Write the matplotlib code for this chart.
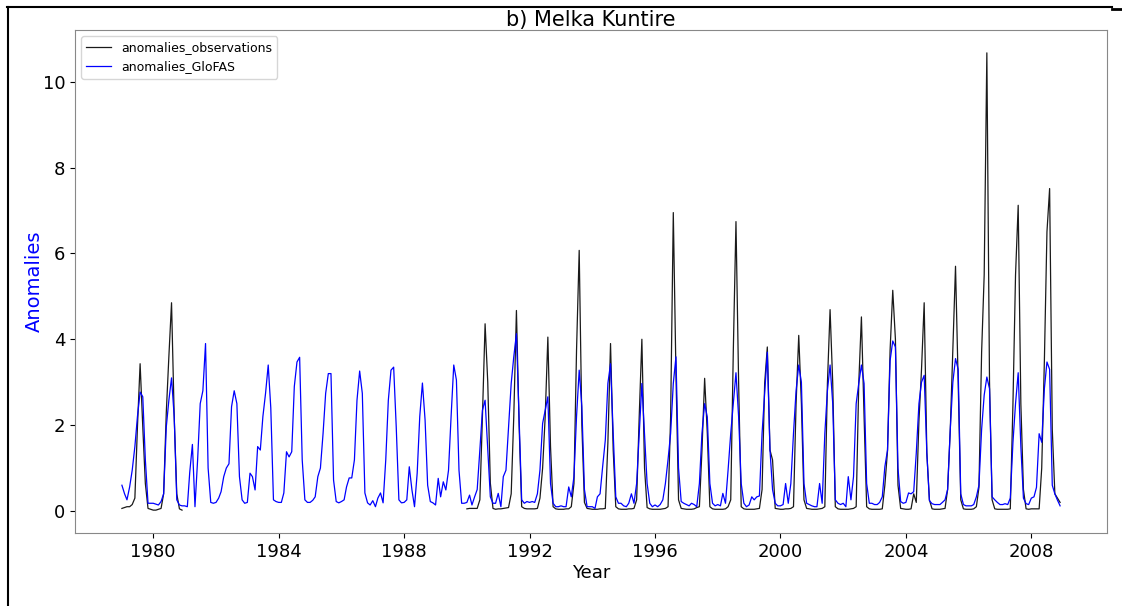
import numpy as np
import pandas as pd
import matplotlib
matplotlib.use('Agg')
import matplotlib.pyplot as plt
import matplotlib.dates as mdates
from matplotlib.lines import Line2D

# monthly anomalies, one row per year (Jan..Dec), 1979-2008
years = list(range(1979, 2009))

glofas = [
    [0.60, 0.40, 0.26, 0.56, 0.95, 1.50, 2.20, 2.77, 2.66, 1.19, 0.18, 0.18],  # 1979
    [0.18, 0.16, 0.14, 0.22, 0.40, 1.96, 2.58, 3.10, 2.20, 0.26, 0.14, 0.12],  # 1980
    [0.12, 0.10, 0.90, 1.55, 0.10, 1.20, 2.50, 2.80, 3.90, 1.00, 0.20, 0.18],  # 1981
    [0.20, 0.30, 0.45, 0.80, 1.00, 1.10, 2.43, 2.80, 2.50, 0.80, 0.26, 0.18],  # 1982
    [0.20, 0.88, 0.80, 0.49, 1.50, 1.42, 2.20, 2.74, 3.40, 2.40, 0.26, 0.22],  # 1983
    [0.20, 0.20, 0.42, 1.38, 1.26, 1.38, 2.90, 3.47, 3.58, 1.19, 0.26, 0.20],  # 1984
    [0.20, 0.25, 0.33, 0.80, 1.00, 1.81, 2.74, 3.20, 3.20, 0.72, 0.22, 0.19],  # 1985
    [0.22, 0.26, 0.56, 0.77, 0.77, 1.19, 2.58, 3.26, 2.74, 0.42, 0.19, 0.14],  # 1986
    [0.24, 0.10, 0.30, 0.42, 0.19, 1.19, 2.58, 3.28, 3.35, 1.96, 0.26, 0.19],  # 1987
    [0.20, 0.26, 1.03, 0.49, 0.10, 0.88, 2.20, 2.98, 2.12, 0.60, 0.22, 0.19],  # 1988
    [0.14, 0.76, 0.33, 0.68, 0.49, 0.95, 2.20, 3.40, 3.05, 0.95, 0.18, 0.18],  # 1989
    [0.20, 0.37, 0.14, 0.33, 0.50, 1.42, 2.35, 2.58, 1.42, 0.33, 0.18, 0.18],  # 1990
    [0.41, 0.10, 0.80, 0.95, 1.96, 2.97, 3.59, 4.13, 2.19, 0.26, 0.18, 0.22],  # 1991
    [0.20, 0.22, 0.20, 0.40, 0.95, 2.04, 2.35, 2.66, 0.64, 0.18, 0.10, 0.10],  # 1992
    [0.12, 0.10, 0.10, 0.56, 0.33, 0.80, 2.20, 3.28, 2.43, 0.50, 0.10, 0.10],  # 1993
    [0.10, 0.06, 0.33, 0.40, 1.03, 1.65, 2.97, 3.43, 1.81, 0.33, 0.18, 0.18],  # 1994
    [0.12, 0.10, 0.18, 0.40, 0.18, 0.64, 1.81, 2.97, 1.81, 0.64, 0.18, 0.10],  # 1995
    [0.14, 0.10, 0.15, 0.26, 0.64, 1.20, 1.81, 2.97, 3.59, 1.00, 0.22, 0.18],  # 1996
    [0.15, 0.12, 0.18, 0.15, 0.10, 0.64, 1.81, 2.50, 2.19, 0.64, 0.18, 0.12],  # 1997
    [0.15, 0.12, 0.41, 0.18, 0.95, 1.81, 2.50, 3.22, 2.19, 0.64, 0.18, 0.10],  # 1998
    [0.14, 0.33, 0.26, 0.33, 0.35, 1.81, 2.74, 3.70, 1.42, 0.50, 0.18, 0.12],  # 1999
    [0.12, 0.15, 0.64, 0.18, 0.64, 1.81, 2.80, 3.40, 3.00, 0.64, 0.18, 0.15],  # 2000
    [0.12, 0.10, 0.10, 0.64, 0.18, 1.81, 2.80, 3.40, 2.50, 0.26, 0.18, 0.15],  # 2001
    [0.18, 0.10, 0.80, 0.26, 0.80, 2.50, 2.97, 3.40, 2.97, 0.64, 0.18, 0.18],  # 2002
    [0.15, 0.15, 0.20, 0.33, 1.03, 1.42, 3.50, 3.96, 3.82, 1.00, 0.22, 0.18],  # 2003
    [0.20, 0.42, 0.40, 0.45, 1.35, 2.50, 3.00, 3.16, 1.35, 0.24, 0.17, 0.15],  # 2004
    [0.15, 0.15, 0.20, 0.26, 0.50, 1.90, 3.00, 3.55, 3.30, 0.40, 0.15, 0.12],  # 2005
    [0.12, 0.12, 0.15, 0.33, 0.60, 1.90, 2.70, 3.12, 2.85, 0.33, 0.26, 0.20],  # 2006
    [0.15, 0.15, 0.17, 0.15, 0.30, 1.60, 2.50, 3.22, 1.50, 0.30, 0.17, 0.15],  # 2007
    [0.30, 0.33, 0.55, 1.80, 1.60, 2.85, 3.47, 3.30, 0.60, 0.40, 0.25, 0.12],  # 2008
]

NA = [None] * 12
observations = [
    [0.06, 0.08, 0.10, 0.10, 0.15, 0.30, 1.96, 3.43, 1.96, 0.64, 0.06, 0.04],  # 1979
    [0.02, 0.02, 0.04, 0.06, 0.40, 2.30, 3.60, 4.85, 2.20, 0.40, 0.05, 0.02],  # 1980
    NA, NA, NA, NA, NA, NA, NA, NA, NA,                                        # 1981-1989
    [0.05, 0.06, 0.06, 0.06, 0.06, 0.26, 2.20, 4.36, 3.00, 0.65, 0.06, 0.04],  # 1990
    [0.05, 0.05, 0.06, 0.07, 0.08, 0.40, 2.20, 4.67, 2.00, 0.10, 0.06, 0.05],  # 1991
    [0.05, 0.05, 0.05, 0.06, 0.30, 1.00, 2.20, 4.05, 1.50, 0.10, 0.05, 0.04],  # 1992
    [0.04, 0.04, 0.05, 0.05, 0.10, 0.64, 3.74, 6.07, 2.00, 0.20, 0.06, 0.05],  # 1993
    [0.04, 0.04, 0.04, 0.05, 0.05, 0.06, 1.58, 3.90, 1.42, 0.10, 0.05, 0.04],  # 1994
    [0.04, 0.04, 0.05, 0.05, 0.06, 0.26, 2.20, 4.00, 1.00, 0.08, 0.05, 0.04],  # 1995
    [0.04, 0.04, 0.04, 0.05, 0.06, 0.10, 2.20, 6.95, 3.20, 0.26, 0.06, 0.05],  # 1996
    [0.04, 0.04, 0.04, 0.05, 0.08, 0.10, 1.42, 3.09, 1.81, 0.10, 0.05, 0.04],  # 1997
    [0.04, 0.04, 0.04, 0.05, 0.10, 0.26, 3.74, 6.74, 2.97, 0.10, 0.05, 0.04],  # 1998
    [0.04, 0.04, 0.04, 0.05, 0.06, 0.50, 2.97, 3.82, 1.42, 1.19, 0.06, 0.05],  # 1999
    [0.04, 0.04, 0.05, 0.05, 0.06, 0.10, 2.50, 4.09, 2.50, 0.26, 0.06, 0.05],  # 2000
    [0.04, 0.04, 0.04, 0.05, 0.06, 0.10, 2.97, 4.69, 2.97, 0.10, 0.05, 0.04],  # 2001
    [0.04, 0.04, 0.04, 0.05, 0.06, 0.10, 2.97, 4.52, 2.20, 0.10, 0.05, 0.04],  # 2002
    [0.04, 0.04, 0.04, 0.05, 0.60, 1.40, 3.74, 5.14, 4.00, 0.60, 0.06, 0.05],  # 2003
    [0.04, 0.04, 0.05, 0.40, 0.20, 2.10, 3.30, 4.85, 1.35, 0.26, 0.05, 0.04],  # 2004
    [0.04, 0.04, 0.05, 0.06, 0.50, 1.90, 3.80, 5.70, 3.00, 0.26, 0.05, 0.04],  # 2005
    [0.04, 0.04, 0.05, 0.10, 0.55, 3.70, 5.50, 10.67, 3.00, 0.26, 0.05, 0.04],  # 2006
    [0.04, 0.04, 0.04, 0.04, 0.05, 2.50, 5.50, 7.12, 2.50, 0.50, 0.05, 0.04],  # 2007
    [0.05, 0.05, 0.05, 0.05, 1.00, 3.50, 6.50, 7.51, 1.90, 0.40, 0.30, 0.20],  # 2008
]

#=====================================================================

dates = pd.date_range('%d-01-01' % years[0], periods=12 * len(years), freq='MS')
glofas_s = np.array(glofas, dtype=float).ravel()
obs_s = np.array(observations, dtype=float).ravel()

W, H = 1122, 606
fig = plt.figure(figsize=(W / 100, H / 100), dpi=100)
ax = fig.add_axes([75 / W, 1 - 533 / H, (1107 - 75) / W, (533 - 30) / H])

ax.plot(dates, obs_s, color='#1a1a1a', lw=0.9, label='anomalies_observations')
ax.plot(dates, glofas_s, color='blue', lw=0.9, label='anomalies_GloFAS')

ax.xaxis.set_major_locator(mdates.YearLocator(4))
ax.xaxis.set_major_formatter(mdates.DateFormatter('%Y'))
ax.tick_params(labelsize=13)

for s in ax.spines.values():
    s.set_color('#888888')

ax.set_title('b) Melka Kuntire', fontsize=15, pad=3)
ax.set_xlabel('Year', fontsize=13, labelpad=2)
ax.set_ylabel('Anomalies', color='blue', fontsize=14, labelpad=-1)
ax.legend(loc='upper left', fontsize=9)

# page frame lines around the figure
fig.add_artist(Line2D([7 / W, 1112 / W], [1 - 7 / H] * 2, color='black', lw=1.5,
                      transform=fig.transFigure))
fig.add_artist(Line2D([7.5 / W] * 2, [1 - 7 / H, 0], color='black', lw=1.5,
                      transform=fig.transFigure))
fig.add_artist(Line2D([1112 / W, 1.0], [1 - 9 / H] * 2, color='black', lw=2,
                      transform=fig.transFigure))

fig.savefig('out.png', dpi=100)
